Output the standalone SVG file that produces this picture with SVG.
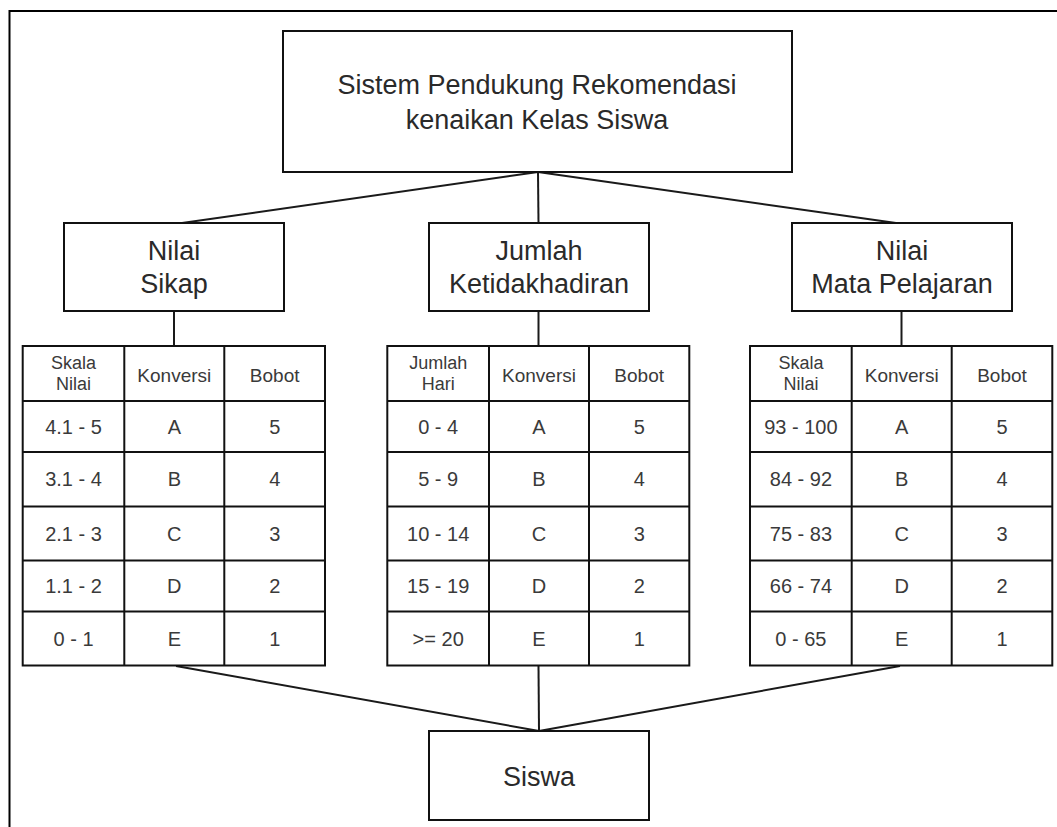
<svg xmlns="http://www.w3.org/2000/svg" width="1057" height="827" viewBox="0 0 1057 827">
  <style>
    .box { fill: #ffffff; stroke: #111111; stroke-width: 2; }
    .cell { fill: #ffffff; stroke: #111111; stroke-width: 2; }
    .conn { fill: none; stroke: #1a1a1a; stroke-width: 2; }
    .frame { fill: none; stroke: #000000; stroke-width: 2; }
    .h { font-family: "Liberation Sans", Arial, sans-serif; font-size: 27px; fill: #2a2a2a; text-anchor: middle; }
    .t { font-family: "Liberation Sans", Arial, sans-serif; font-size: 19px; fill: #3a3a3a; text-anchor: middle; }
    .t2 { font-family: "Liberation Sans", Arial, sans-serif; font-size: 18px; fill: #3a3a3a; text-anchor: middle; }
    .d { font-family: "Liberation Sans", Arial, sans-serif; font-size: 20px; fill: #3a3a3a; text-anchor: middle; }
  </style>
  <rect x="0" y="0" width="1057" height="827" fill="#ffffff"/>
  <path class="frame" d="M9.5 827 V11 H1057"/>

  <g id="connectors">
    <line class="conn" x1="538" y1="172" x2="182" y2="223"/>
    <line class="conn" x1="538" y1="172" x2="538.5" y2="223"/>
    <line class="conn" x1="538" y1="172" x2="896" y2="223"/>
    <line class="conn" x1="174" y1="311" x2="174" y2="346"/>
    <line class="conn" x1="538.5" y1="311" x2="538.5" y2="346"/>
    <line class="conn" x1="901.5" y1="311" x2="901.5" y2="346"/>
    <line class="conn" x1="176" y1="666" x2="539" y2="731"/>
    <line class="conn" x1="538.5" y1="666" x2="539" y2="731"/>
    <line class="conn" x1="900" y1="666" x2="539" y2="731"/>
  </g>

  <g id="root">
    <rect class="box" x="283" y="31" width="509" height="141"/>
    <text class="h" x="537" y="94">Sistem Pendukung Rekomendasi</text>
    <text class="h" x="537" y="129">kenaikan Kelas Siswa</text>
  </g>

  <g id="nilai-sikap">
    <rect class="box" x="64" y="223" width="220" height="88"/>
    <text class="h" x="174" y="260">Nilai</text>
    <text class="h" x="174" y="293">Sikap</text>
  </g>

  <g id="jumlah-ketidakhadiran">
    <rect class="box" x="429" y="223" width="220" height="88"/>
    <text class="h" x="539" y="260">Jumlah</text>
    <text class="h" x="539" y="293">Ketidakhadiran</text>
  </g>

  <g id="nilai-mapel">
    <rect class="box" x="792" y="223" width="220" height="88"/>
    <text class="h" x="902" y="260">Nilai</text>
    <text class="h" x="902" y="293">Mata Pelajaran</text>
  </g>

  <g id="table-sikap">
    <rect class="cell" x="22.7" y="346" width="302.3" height="319.5"/>
    <path class="cell" d="M124.3 346 V665.5 M224.3 346 V665.5 M22.7 401 H325 M22.7 452 H325 M22.7 506.5 H325 M22.7 560.5 H325 M22.7 611.5 H325"/>
    <text class="t2" x="73.5" y="369">Skala</text>
    <text class="t2" x="73.5" y="390">Nilai</text>
    <text class="t" x="174.3" y="382">Konversi</text>
    <text class="t" x="274.7" y="382">Bobot</text>
    <text class="d" x="73.5" y="433.5">4.1 - 5</text>
    <text class="d" x="174.3" y="433.5">A</text>
    <text class="d" x="274.7" y="433.5">5</text>
    <text class="d" x="73.5" y="486">3.1 - 4</text>
    <text class="d" x="174.3" y="486">B</text>
    <text class="d" x="274.7" y="486">4</text>
    <text class="d" x="73.5" y="540.5">2.1 - 3</text>
    <text class="d" x="174.3" y="540.5">C</text>
    <text class="d" x="274.7" y="540.5">3</text>
    <text class="d" x="73.5" y="593">1.1 - 2</text>
    <text class="d" x="174.3" y="593">D</text>
    <text class="d" x="274.7" y="593">2</text>
    <text class="d" x="73.5" y="645.5">0 - 1</text>
    <text class="d" x="174.3" y="645.5">E</text>
    <text class="d" x="274.7" y="645.5">1</text>
  </g>

  <g id="table-kehadiran">
    <rect class="cell" x="387.3" y="346" width="302" height="319.5"/>
    <path class="cell" d="M489 346 V665.5 M589 346 V665.5 M387.3 401 H689.3 M387.3 452 H689.3 M387.3 506.5 H689.3 M387.3 560.5 H689.3 M387.3 611.5 H689.3"/>
    <text class="t2" x="438.2" y="369">Jumlah</text>
    <text class="t2" x="438.2" y="390">Hari</text>
    <text class="t" x="539" y="382">Konversi</text>
    <text class="t" x="639.2" y="382">Bobot</text>
    <text class="d" x="438.2" y="433.5">0 - 4</text>
    <text class="d" x="539" y="433.5">A</text>
    <text class="d" x="639.2" y="433.5">5</text>
    <text class="d" x="438.2" y="486">5 - 9</text>
    <text class="d" x="539" y="486">B</text>
    <text class="d" x="639.2" y="486">4</text>
    <text class="d" x="438.2" y="540.5">10 - 14</text>
    <text class="d" x="539" y="540.5">C</text>
    <text class="d" x="639.2" y="540.5">3</text>
    <text class="d" x="438.2" y="593">15 - 19</text>
    <text class="d" x="539" y="593">D</text>
    <text class="d" x="639.2" y="593">2</text>
    <text class="d" x="438.2" y="645.5">&gt;= 20</text>
    <text class="d" x="539" y="645.5">E</text>
    <text class="d" x="639.2" y="645.5">1</text>
  </g>

  <g id="table-mapel">
    <rect class="cell" x="750" y="346" width="302.3" height="319.5"/>
    <path class="cell" d="M851.7 346 V665.5 M951.7 346 V665.5 M750 401 H1052.3 M750 452 H1052.3 M750 506.5 H1052.3 M750 560.5 H1052.3 M750 611.5 H1052.3"/>
    <text class="t2" x="800.9" y="369">Skala</text>
    <text class="t2" x="800.9" y="390">Nilai</text>
    <text class="t" x="901.7" y="382">Konversi</text>
    <text class="t" x="1002" y="382">Bobot</text>
    <text class="d" x="800.9" y="433.5">93 - 100</text>
    <text class="d" x="901.7" y="433.5">A</text>
    <text class="d" x="1002" y="433.5">5</text>
    <text class="d" x="800.9" y="486">84 - 92</text>
    <text class="d" x="901.7" y="486">B</text>
    <text class="d" x="1002" y="486">4</text>
    <text class="d" x="800.9" y="540.5">75 - 83</text>
    <text class="d" x="901.7" y="540.5">C</text>
    <text class="d" x="1002" y="540.5">3</text>
    <text class="d" x="800.9" y="593">66 - 74</text>
    <text class="d" x="901.7" y="593">D</text>
    <text class="d" x="1002" y="593">2</text>
    <text class="d" x="800.9" y="645.5">0 - 65</text>
    <text class="d" x="901.7" y="645.5">E</text>
    <text class="d" x="1002" y="645.5">1</text>
  </g>

  <g id="siswa">
    <rect class="box" x="429" y="731" width="220" height="89"/>
    <text class="h" x="539" y="786">Siswa</text>
  </g>
</svg>
